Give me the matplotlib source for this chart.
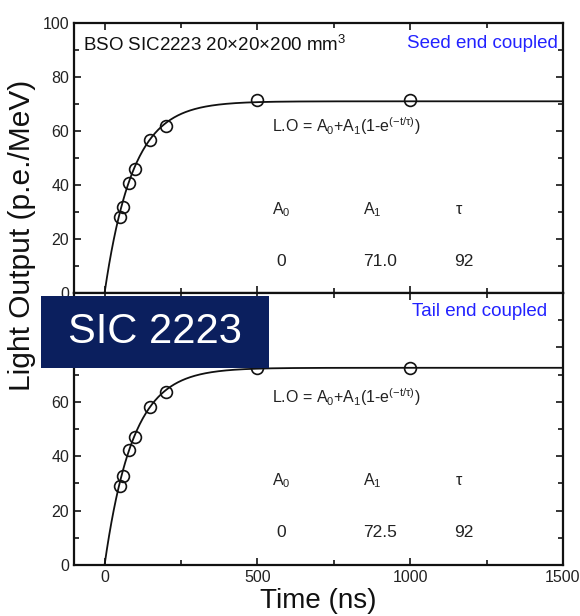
import numpy as np
import matplotlib
matplotlib.use("Agg")
import matplotlib.pyplot as plt
from matplotlib.patches import Rectangle
from matplotlib.ticker import MultipleLocator, FixedLocator

plt.rcParams['font.family'] = ['Liberation Sans', 'DejaVu Sans']
plt.rcParams['mathtext.fontset'] = 'custom'
plt.rcParams['mathtext.rm'] = 'Liberation Sans'
plt.rcParams['mathtext.it'] = 'Liberation Sans'
plt.rcParams['mathtext.bf'] = 'Liberation Sans:bold'

# ---- data ----
time_ns = [50, 60, 80, 100, 150, 200, 500, 1000]
seed_lo = [28.1, 32.0, 40.7, 46.0, 56.5, 62.0, 71.5, 71.5]
tail_lo = [28.9, 32.6, 42.2, 47.0, 58.1, 63.6, 72.5, 72.5]
seed_fit = {"A0": 0, "A1": 71.0, "tau": 92}
tail_fit = {"A0": 0, "A1": 72.5, "tau": 92}
panel_tags = ["Seed end coupled", "Tail end coupled"]
title_text = "BSO SIC2223 20\u00d720\u00d7200 mm$^3$"
badge_text = "SIC 2223"
x_ticks = [0, 500, 1000, 1500]

fig = plt.figure(figsize=(5.8, 6.16), dpi=100)
L, R = 74/580, 563/580
ax1 = fig.add_axes([L, 1-293/616, R-L, (293-23)/616])
ax2 = fig.add_axes([L, 1-565/616, R-L, (565-293)/616])

t_fit = np.linspace(0, 1500, 600)
ink = '#111111'
txt = '#222222'
for ax, lo, fit, tag in [(ax1, seed_lo, seed_fit, panel_tags[0]),
                         (ax2, tail_lo, tail_fit, panel_tags[1])]:
    curve = fit["A0"] + fit["A1"] * (1 - np.exp(-t_fit / fit["tau"]))
    ax.plot(t_fit, curve, color=ink, lw=1.3, zorder=2)
    ax.plot(time_ns, lo, 'o', ms=8.5, mfc='none', mec=ink, mew=1.2, zorder=3)
    ax.set_xlim(-100, 1500)
    ax.set_ylim(0, 100)
    ax.xaxis.set_major_locator(FixedLocator(x_ticks))
    ax.xaxis.set_minor_locator(MultipleLocator(250))
    ax.yaxis.set_minor_locator(MultipleLocator(10))
    ax.tick_params(which='both', direction='in', top=True, right=True,
                   labelsize=11.5, labelcolor=txt, width=1.1)
    ax.tick_params(which='major', length=5)
    ax.tick_params(which='minor', length=3.5)
    for s in ax.spines.values():
        s.set_linewidth(1.6)
        s.set_color(ink)
    ax.text(549, 61.8, r'L.O = A$_0$+A$_1$(1-e$^{(\mathrm{-t/\tau})}$)',
            fontsize=11.5, color=txt, va='center', ha='left')
    ax.text(549, 31, r'A$_0$', fontsize=11.5, color=txt, va='center')
    ax.text(846, 31, r'A$_1$', fontsize=11.5, color=txt, va='center')
    ax.text(1150, 31, '\u03c4', fontsize=11.5, color=txt, va='center')
    ax.text(562, 11.8, f'{fit["A0"]}', fontsize=12.5, color=txt, va='center')
    ax.text(846, 11.8, f'{fit["A1"]:.1f}', fontsize=12.5, color=txt, va='center')
    ax.text(1144, 11.8, f'{fit["tau"]}', fontsize=12.5, color=txt, va='center')

ax1.set_yticks([0, 20, 40, 60, 80, 100])
ax1.tick_params(labelbottom=False)
ax2.set_yticks([0, 20, 40, 60, 80])
ax2.set_xticklabels([str(v) for v in x_ticks])

ax1.text(-72, 92, title_text, fontsize=13.5, color='#111111', va='center', ha='left')
ax1.text(1484, 92.5, panel_tags[0], fontsize=13.5, color='#2222ff', va='center', ha='right')
ax2.text(1448, 93.3, panel_tags[1], fontsize=13.5, color='#2222ff', va='center', ha='right')

fig.text(22/580, 1-235/616, 'Light Output (p.e./MeV)', rotation=90,
         fontsize=21.5, ha='center', va='center', color='#111111')
fig.text(318/580, 1-601/616, 'Time (ns)', fontsize=20, ha='center',
         va='center', color='#111111')

badge = Rectangle((41/580, 1-368/616), 228/580, 72/616, transform=fig.transFigure,
                  facecolor='#0b1f5e', edgecolor='none', zorder=10)
fig.patches.append(badge)
fig.text(155/580, 1-332/616, badge_text, fontsize=30, color='white',
         ha='center', va='center', zorder=11)

fig.savefig('out.png', dpi=100)
